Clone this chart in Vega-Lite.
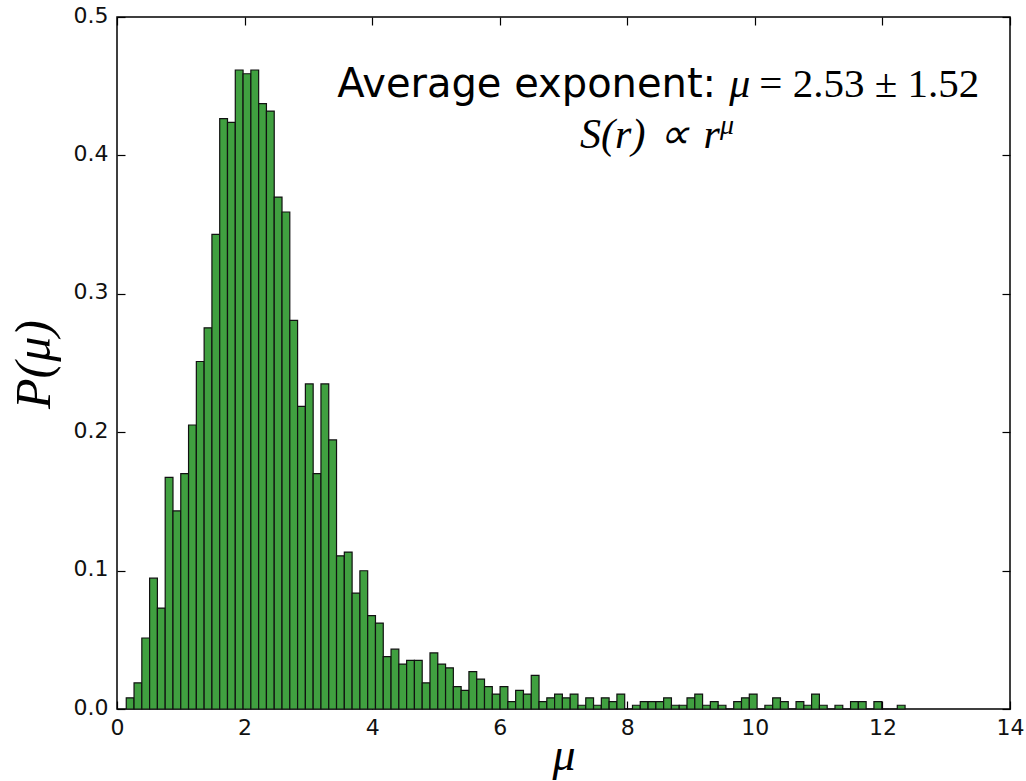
{
  "$schema": "https://vega.github.io/schema/vega-lite/v6.json",
  "width": 893,
  "height": 692,
  "autosize": {"type": "none"},
  "padding": {"left": 117, "top": 17, "right": 16, "bottom": 72},
  "background": "white",
  "config": {
    "view": {"stroke": "black", "strokeWidth": 1.5},
    "axis": {"domain": false, "grid": false, "labelFont": "DejaVu Sans", "labelFontSize": 22, "labelColor": "#111", "tickColor": "black", "tickWidth": 1.2, "labelFlush": false, "labelOverlap": false}
  },
  "datasets": {
    "hist": [
      {"x0": 0.1450, "x1": 0.2671, "p": 0.0081},
      {"x0": 0.2671, "x1": 0.3892, "p": 0.0189},
      {"x0": 0.3892, "x1": 0.5113, "p": 0.0513},
      {"x0": 0.5113, "x1": 0.6334, "p": 0.0945},
      {"x0": 0.6334, "x1": 0.7555, "p": 0.0729},
      {"x0": 0.7555, "x1": 0.8776, "p": 0.1674},
      {"x0": 0.8776, "x1": 0.9997, "p": 0.1431},
      {"x0": 0.9997, "x1": 1.1218, "p": 0.1701},
      {"x0": 1.1218, "x1": 1.2439, "p": 0.2052},
      {"x0": 1.2439, "x1": 1.3660, "p": 0.2511},
      {"x0": 1.3660, "x1": 1.4881, "p": 0.2754},
      {"x0": 1.4881, "x1": 1.6102, "p": 0.3429},
      {"x0": 1.6102, "x1": 1.7323, "p": 0.4266},
      {"x0": 1.7323, "x1": 1.8544, "p": 0.4239},
      {"x0": 1.8544, "x1": 1.9765, "p": 0.4617},
      {"x0": 1.9765, "x1": 2.0986, "p": 0.4590},
      {"x0": 2.0986, "x1": 2.2207, "p": 0.4617},
      {"x0": 2.2207, "x1": 2.3428, "p": 0.4374},
      {"x0": 2.3428, "x1": 2.4649, "p": 0.4320},
      {"x0": 2.4649, "x1": 2.5870, "p": 0.3699},
      {"x0": 2.5870, "x1": 2.7091, "p": 0.3591},
      {"x0": 2.7091, "x1": 2.8312, "p": 0.2808},
      {"x0": 2.8312, "x1": 2.9533, "p": 0.2187},
      {"x0": 2.9533, "x1": 3.0754, "p": 0.2349},
      {"x0": 3.0754, "x1": 3.1975, "p": 0.1701},
      {"x0": 3.1975, "x1": 3.3196, "p": 0.2349},
      {"x0": 3.3196, "x1": 3.4417, "p": 0.1944},
      {"x0": 3.4417, "x1": 3.5638, "p": 0.1107},
      {"x0": 3.5638, "x1": 3.6859, "p": 0.1134},
      {"x0": 3.6859, "x1": 3.8080, "p": 0.0837},
      {"x0": 3.8080, "x1": 3.9301, "p": 0.0999},
      {"x0": 3.9301, "x1": 4.0522, "p": 0.0675},
      {"x0": 4.0522, "x1": 4.1743, "p": 0.0621},
      {"x0": 4.1743, "x1": 4.2964, "p": 0.0378},
      {"x0": 4.2964, "x1": 4.4185, "p": 0.0432},
      {"x0": 4.4185, "x1": 4.5406, "p": 0.0324},
      {"x0": 4.5406, "x1": 4.6627, "p": 0.0351},
      {"x0": 4.6627, "x1": 4.7848, "p": 0.0351},
      {"x0": 4.7848, "x1": 4.9069, "p": 0.0189},
      {"x0": 4.9069, "x1": 5.0290, "p": 0.0405},
      {"x0": 5.0290, "x1": 5.1511, "p": 0.0324},
      {"x0": 5.1511, "x1": 5.2732, "p": 0.0297},
      {"x0": 5.2732, "x1": 5.3953, "p": 0.0162},
      {"x0": 5.3953, "x1": 5.5174, "p": 0.0135},
      {"x0": 5.5174, "x1": 5.6395, "p": 0.0270},
      {"x0": 5.6395, "x1": 5.7616, "p": 0.0216},
      {"x0": 5.7616, "x1": 5.8837, "p": 0.0162},
      {"x0": 5.8837, "x1": 6.0058, "p": 0.0108},
      {"x0": 6.0058, "x1": 6.1279, "p": 0.0162},
      {"x0": 6.1279, "x1": 6.2500, "p": 0.0054},
      {"x0": 6.2500, "x1": 6.3721, "p": 0.0135},
      {"x0": 6.3721, "x1": 6.4942, "p": 0.0108},
      {"x0": 6.4942, "x1": 6.6163, "p": 0.0243},
      {"x0": 6.6163, "x1": 6.7384, "p": 0.0054},
      {"x0": 6.7384, "x1": 6.8605, "p": 0.0081},
      {"x0": 6.8605, "x1": 6.9826, "p": 0.0108},
      {"x0": 6.9826, "x1": 7.1047, "p": 0.0081},
      {"x0": 7.1047, "x1": 7.2268, "p": 0.0108},
      {"x0": 7.2268, "x1": 7.3489, "p": 0.0027},
      {"x0": 7.3489, "x1": 7.4710, "p": 0.0081},
      {"x0": 7.4710, "x1": 7.5931, "p": 0.0027},
      {"x0": 7.5931, "x1": 7.7152, "p": 0.0081},
      {"x0": 7.7152, "x1": 7.8373, "p": 0.0054},
      {"x0": 7.8373, "x1": 7.9594, "p": 0.0108},
      {"x0": 7.9594, "x1": 8.0815, "p": 0},
      {"x0": 8.0815, "x1": 8.2036, "p": 0.0027},
      {"x0": 8.2036, "x1": 8.3257, "p": 0.0054},
      {"x0": 8.3257, "x1": 8.4478, "p": 0.0054},
      {"x0": 8.4478, "x1": 8.5699, "p": 0.0054},
      {"x0": 8.5699, "x1": 8.6920, "p": 0.0081},
      {"x0": 8.6920, "x1": 8.8141, "p": 0.0027},
      {"x0": 8.8141, "x1": 8.9362, "p": 0.0027},
      {"x0": 8.9362, "x1": 9.0583, "p": 0.0081},
      {"x0": 9.0583, "x1": 9.1804, "p": 0.0108},
      {"x0": 9.1804, "x1": 9.3025, "p": 0.0027},
      {"x0": 9.3025, "x1": 9.4246, "p": 0.0054},
      {"x0": 9.4246, "x1": 9.5467, "p": 0.0027},
      {"x0": 9.5467, "x1": 9.6688, "p": 0},
      {"x0": 9.6688, "x1": 9.7909, "p": 0.0054},
      {"x0": 9.7909, "x1": 9.9130, "p": 0.0081},
      {"x0": 9.9130, "x1": 10.0351, "p": 0.0108},
      {"x0": 10.0351, "x1": 10.1572, "p": 0},
      {"x0": 10.1572, "x1": 10.2793, "p": 0.0027},
      {"x0": 10.2793, "x1": 10.4014, "p": 0.0081},
      {"x0": 10.4014, "x1": 10.5235, "p": 0.0054},
      {"x0": 10.5235, "x1": 10.6456, "p": 0},
      {"x0": 10.6456, "x1": 10.7677, "p": 0.0054},
      {"x0": 10.7677, "x1": 10.8898, "p": 0.0027},
      {"x0": 10.8898, "x1": 11.0119, "p": 0.0108},
      {"x0": 11.0119, "x1": 11.1340, "p": 0.0027},
      {"x0": 11.1340, "x1": 11.2561, "p": 0},
      {"x0": 11.2561, "x1": 11.3782, "p": 0.0027},
      {"x0": 11.3782, "x1": 11.5003, "p": 0},
      {"x0": 11.5003, "x1": 11.6224, "p": 0.0054},
      {"x0": 11.6224, "x1": 11.7445, "p": 0.0054},
      {"x0": 11.7445, "x1": 11.8666, "p": 0},
      {"x0": 11.8666, "x1": 11.9887, "p": 0.0054},
      {"x0": 11.9887, "x1": 12.1108, "p": 0},
      {"x0": 12.1108, "x1": 12.2329, "p": 0},
      {"x0": 12.2329, "x1": 12.3550, "p": 0.0027}
    ]
  },
  "layer": [
    {
      "data": {"name": "hist"},
      "mark": {"type": "bar", "fill": "#40a040", "stroke": "#111111", "strokeWidth": 1.2},
      "encoding": {
        "x": {
          "field": "x0", "type": "quantitative",
          "scale": {"domain": [0, 14], "nice": false, "zero": false},
          "axis": {"orient": "bottom", "values": [0, 2, 4, 6, 8, 10, 12, 14], "format": "d", "tickSize": -8, "labelPadding": 16,
                   "title": "μ", "titleFont": "Liberation Serif", "titleFontStyle": "italic", "titleFontWeight": "normal", "titleFontSize": 46,
                   "titleX": 446.5, "titleY": 60, "titleAlign": "center", "titleBaseline": "alphabetic", "titleColor": "black"}
        },
        "x2": {"field": "x1"},
        "y": {
          "field": "p", "type": "quantitative",
          "scale": {"domain": [0, 0.5], "nice": false},
          "axis": {"orient": "left", "values": [0, 0.1, 0.2, 0.3, 0.4, 0.5], "format": ".1f", "tickSize": -8, "labelPadding": 17, "labelOffset": -2,
                   "title": "P(μ)", "titleFont": "Liberation Serif", "titleFontStyle": "italic", "titleFontWeight": "normal", "titleFontSize": 50,
                   "titleX": -83, "titleY": 347, "titleAngle": -90, "titleAlign": "center", "titleBaseline": "middle", "titleColor": "black"}
        },
        "y2": {"datum": 0}
      }
    },
    {
      "data": {"name": "hist"},
      "mark": {"type": "point", "opacity": 0},
      "encoding": {
        "x": {"field": "x0", "type": "quantitative", "axis": {"orient": "top", "values": [0, 2, 4, 6, 8, 10, 12, 14], "labels": false, "tickSize": -8, "title": null}},
        "y": {"field": "p", "type": "quantitative", "axis": {"orient": "right", "values": [0, 0.1, 0.2, 0.3, 0.4, 0.5], "labels": false, "tickSize": -8, "title": null}}
      }
    },
    {
      "data": {"values": [{"label": "Average exponent:"}]},
      "mark": {"type": "text", "font": "DejaVu Sans", "fontSize": 40, "align": "right", "baseline": "alphabetic", "color": "black"},
      "encoding": {
        "text": {"field": "label"},
        "x": {"datum": 9.392, "type": "quantitative", "axis": null},
        "y": {"datum": 0.4422, "type": "quantitative", "axis": null}
      }
    },
    {
      "data": {"values": [{"label": "μ"}]},
      "mark": {"type": "text", "font": "Liberation Serif", "fontStyle": "italic", "fontSize": 42, "align": "left", "baseline": "alphabetic", "color": "black"},
      "encoding": {
        "text": {"field": "label"},
        "x": {"datum": 9.6, "type": "quantitative", "axis": null},
        "y": {"datum": 0.4422, "type": "quantitative", "axis": null}
      }
    },
    {
      "data": {"values": [{"label": "= 2.53 ± 1.52"}]},
      "mark": {"type": "text", "font": "Liberation Serif", "fontSize": 41, "align": "left", "baseline": "alphabetic", "color": "black"},
      "encoding": {
        "text": {"field": "label"},
        "x": {"datum": 10.07, "type": "quantitative", "axis": null},
        "y": {"datum": 0.4422, "type": "quantitative", "axis": null}
      }
    },
    {
      "data": {"values": [{"label": "S(r)\u2004∝\u2004r"}]},
      "mark": {"type": "text", "font": "Liberation Serif", "fontStyle": "italic", "fontSize": 42, "align": "left", "baseline": "alphabetic", "color": "black"},
      "encoding": {
        "text": {"field": "label"},
        "x": {"datum": 7.26, "type": "quantitative", "axis": null},
        "y": {"datum": 0.4053, "type": "quantitative", "axis": null}
      }
    },
    {
      "data": {"values": [{"label": "μ"}]},
      "mark": {"type": "text", "font": "Liberation Serif", "fontStyle": "italic", "fontSize": 28, "align": "left", "baseline": "alphabetic", "color": "black"},
      "encoding": {
        "text": {"field": "label"},
        "x": {"datum": 9.455, "type": "quantitative", "axis": null},
        "y": {"datum": 0.4155, "type": "quantitative", "axis": null}
      }
    }
  ],
  "resolve": {"axis": {"x": "independent", "y": "independent"}}
}
